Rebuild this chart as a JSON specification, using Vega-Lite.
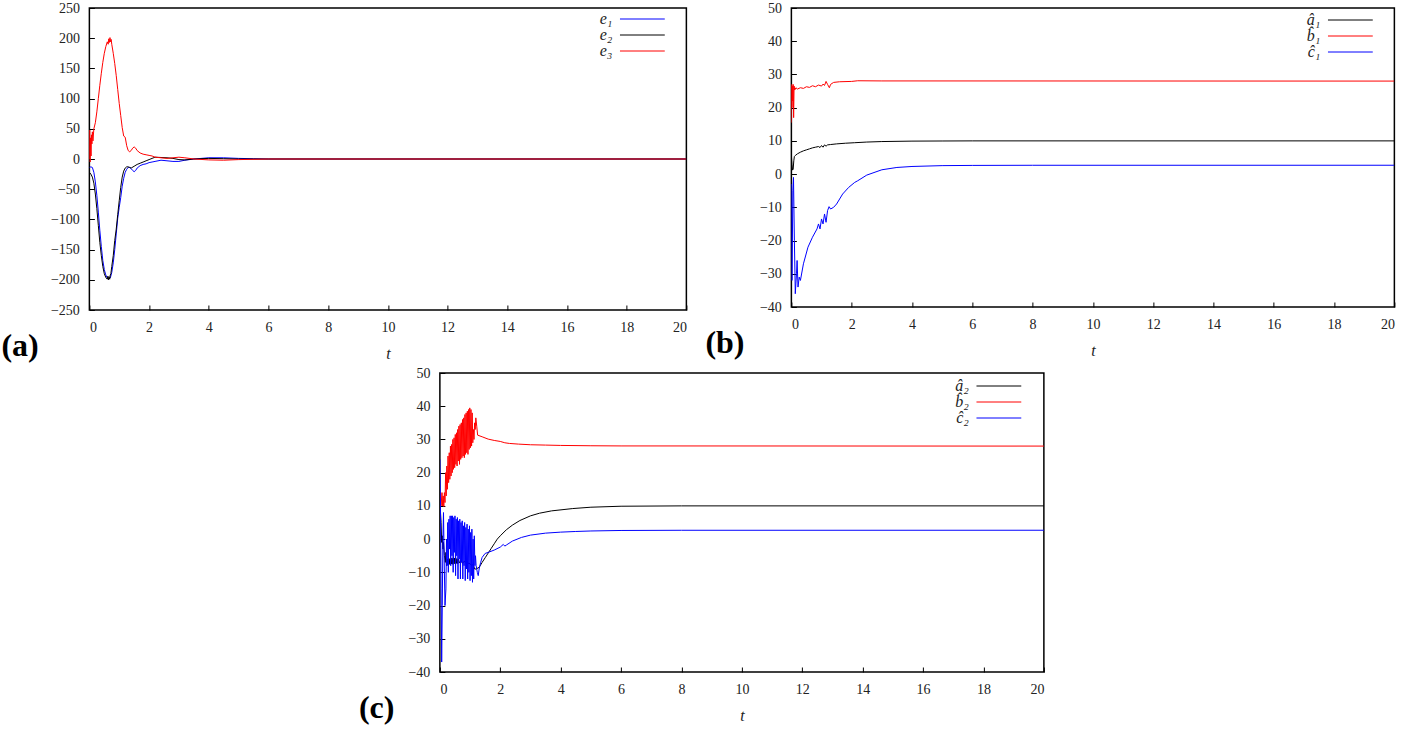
{
  "$schema": "https://vega.github.io/schema/vega-lite/v6.json",
  "padding": {"left": 0, "top": 0, "right": 0, "bottom": 0},
  "background": "white",
  "config": {
    "view": {"stroke": "black", "strokeWidth": 1.5},
    "axis": {
      "domain": false,
      "grid": false,
      "ticks": true,
      "tickColor": "black",
      "tickSize": -5,
      "tickWidth": 1,
      "labelFont": "Liberation Serif",
      "labelFontSize": 14,
      "labelColor": "#222",
      "labelPadding": 15,
      "titleFont": "Liberation Serif",
      "titleFontSize": 16,
      "titleFontStyle": "italic",
      "titleFontWeight": "normal",
      "titleColor": "#222",
      "titlePadding": 11
    },
    "legend": {
      "orient": "none",
      "padding": 0,
      "symbolType": "M-3.2,0H3.2",
      "symbolSize": 196,
      "symbolStrokeWidth": 1.5,
      "labelFont": "Liberation Serif",
      "labelFontSize": 16,
      "labelFontStyle": "italic",
      "labelColor": "#222",
      "labelAlign": "right",
      "labelOffset": -38,
      "rowPadding": 0
    },
    "title": {
      "font": "Liberation Serif",
      "fontSize": 32,
      "fontWeight": "bold",
      "color": "black",
      "orient": "bottom",
      "anchor": "start",
      "frame": "group",
      "offset": -30
    },
    "line": {"strokeWidth": 1}
  },
  "datasets": {
    "pa": [
      {"s": "e₁", "t": 0, "v": -14}, {"s": "e₁", "t": 0.05, "v": -13}, {"s": "e₁", "t": 0.1, "v": -14}, {"s": "e₁", "t": 0.15, "v": -22}, {"s": "e₁", "t": 0.2, "v": -38}, {"s": "e₁", "t": 0.25, "v": -60}, {"s": "e₁", "t": 0.3, "v": -88}, {"s": "e₁", "t": 0.35, "v": -118}, {"s": "e₁", "t": 0.4, "v": -145}, {"s": "e₁", "t": 0.45, "v": -168}, {"s": "e₁", "t": 0.5, "v": -183}, {"s": "e₁", "t": 0.55, "v": -192}, {"s": "e₁", "t": 0.6, "v": -197}, {"s": "e₁", "t": 0.65, "v": -199}, {"s": "e₁", "t": 0.7, "v": -197}, {"s": "e₁", "t": 0.75, "v": -188}, {"s": "e₁", "t": 0.8, "v": -172}, {"s": "e₁", "t": 0.85, "v": -150}, {"s": "e₁", "t": 0.9, "v": -124}, {"s": "e₁", "t": 0.95, "v": -98}, {"s": "e₁", "t": 1.0, "v": -80}, {"s": "e₁", "t": 1.05, "v": -64}, {"s": "e₁", "t": 1.1, "v": -45}, {"s": "e₁", "t": 1.15, "v": -32}, {"s": "e₁", "t": 1.2, "v": -22}, {"s": "e₁", "t": 1.25, "v": -17}, {"s": "e₁", "t": 1.3, "v": -14}, {"s": "e₁", "t": 1.35, "v": -14}, {"s": "e₁", "t": 1.4, "v": -16}, {"s": "e₁", "t": 1.45, "v": -19}, {"s": "e₁", "t": 1.5, "v": -21}, {"s": "e₁", "t": 1.55, "v": -19}, {"s": "e₁", "t": 1.6, "v": -15}, {"s": "e₁", "t": 1.7, "v": -11}, {"s": "e₁", "t": 1.8, "v": -9}, {"s": "e₁", "t": 1.9, "v": -8}, {"s": "e₁", "t": 2.0, "v": -6}, {"s": "e₁", "t": 2.1, "v": -5}, {"s": "e₁", "t": 2.2, "v": -4}, {"s": "e₁", "t": 2.4, "v": -2}, {"s": "e₁", "t": 2.6, "v": -3}, {"s": "e₁", "t": 2.8, "v": -4}, {"s": "e₁", "t": 3.0, "v": -4}, {"s": "e₁", "t": 3.2, "v": -2}, {"s": "e₁", "t": 3.5, "v": 0}, {"s": "e₁", "t": 4.0, "v": 2}, {"s": "e₁", "t": 4.5, "v": 2}, {"s": "e₁", "t": 5.0, "v": 1}, {"s": "e₁", "t": 5.5, "v": 0.5}, {"s": "e₁", "t": 6, "v": 0}, {"s": "e₁", "t": 20, "v": 0},
      {"s": "e₂", "t": 0, "v": -22}, {"s": "e₂", "t": 0.05, "v": -25}, {"s": "e₂", "t": 0.1, "v": -30}, {"s": "e₂", "t": 0.15, "v": -40}, {"s": "e₂", "t": 0.2, "v": -58}, {"s": "e₂", "t": 0.25, "v": -82}, {"s": "e₂", "t": 0.3, "v": -110}, {"s": "e₂", "t": 0.35, "v": -138}, {"s": "e₂", "t": 0.4, "v": -160}, {"s": "e₂", "t": 0.45, "v": -178}, {"s": "e₂", "t": 0.5, "v": -190}, {"s": "e₂", "t": 0.55, "v": -196}, {"s": "e₂", "t": 0.6, "v": -199}, {"s": "e₂", "t": 0.62, "v": -194}, {"s": "e₂", "t": 0.64, "v": -200}, {"s": "e₂", "t": 0.66, "v": -195}, {"s": "e₂", "t": 0.68, "v": -199}, {"s": "e₂", "t": 0.7, "v": -192}, {"s": "e₂", "t": 0.72, "v": -190}, {"s": "e₂", "t": 0.75, "v": -178}, {"s": "e₂", "t": 0.8, "v": -160}, {"s": "e₂", "t": 0.85, "v": -135}, {"s": "e₂", "t": 0.9, "v": -116}, {"s": "e₂", "t": 0.95, "v": -92}, {"s": "e₂", "t": 1.0, "v": -69}, {"s": "e₂", "t": 1.05, "v": -47}, {"s": "e₂", "t": 1.1, "v": -30}, {"s": "e₂", "t": 1.15, "v": -20}, {"s": "e₂", "t": 1.2, "v": -15}, {"s": "e₂", "t": 1.25, "v": -13}, {"s": "e₂", "t": 1.3, "v": -13}, {"s": "e₂", "t": 1.35, "v": -14}, {"s": "e₂", "t": 1.4, "v": -15}, {"s": "e₂", "t": 1.5, "v": -12}, {"s": "e₂", "t": 1.6, "v": -9}, {"s": "e₂", "t": 1.7, "v": -7}, {"s": "e₂", "t": 1.8, "v": -5}, {"s": "e₂", "t": 1.9, "v": -3}, {"s": "e₂", "t": 2.0, "v": -1}, {"s": "e₂", "t": 2.1, "v": 1}, {"s": "e₂", "t": 2.2, "v": 3}, {"s": "e₂", "t": 2.4, "v": 2.5}, {"s": "e₂", "t": 2.6, "v": 2}, {"s": "e₂", "t": 2.8, "v": 1}, {"s": "e₂", "t": 3.0, "v": -1}, {"s": "e₂", "t": 3.2, "v": -1.5}, {"s": "e₂", "t": 3.5, "v": 0}, {"s": "e₂", "t": 4, "v": 1}, {"s": "e₂", "t": 4.5, "v": 0.5}, {"s": "e₂", "t": 5, "v": 0}, {"s": "e₂", "t": 20, "v": 0},
      {"s": "e₃", "t": 0, "v": 0}, {"s": "e₃", "t": 0.01, "v": 48}, {"s": "e₃", "t": 0.025, "v": -5}, {"s": "e₃", "t": 0.04, "v": 35}, {"s": "e₃", "t": 0.055, "v": 5}, {"s": "e₃", "t": 0.07, "v": 40}, {"s": "e₃", "t": 0.085, "v": 25}, {"s": "e₃", "t": 0.1, "v": 45}, {"s": "e₃", "t": 0.12, "v": 30}, {"s": "e₃", "t": 0.15, "v": 50}, {"s": "e₃", "t": 0.2, "v": 60}, {"s": "e₃", "t": 0.25, "v": 78}, {"s": "e₃", "t": 0.3, "v": 100}, {"s": "e₃", "t": 0.35, "v": 122}, {"s": "e₃", "t": 0.4, "v": 142}, {"s": "e₃", "t": 0.45, "v": 160}, {"s": "e₃", "t": 0.5, "v": 175}, {"s": "e₃", "t": 0.55, "v": 186}, {"s": "e₃", "t": 0.6, "v": 194}, {"s": "e₃", "t": 0.63, "v": 190}, {"s": "e₃", "t": 0.65, "v": 199}, {"s": "e₃", "t": 0.67, "v": 193}, {"s": "e₃", "t": 0.69, "v": 201}, {"s": "e₃", "t": 0.71, "v": 194}, {"s": "e₃", "t": 0.73, "v": 198}, {"s": "e₃", "t": 0.75, "v": 190}, {"s": "e₃", "t": 0.8, "v": 175}, {"s": "e₃", "t": 0.85, "v": 158}, {"s": "e₃", "t": 0.9, "v": 138}, {"s": "e₃", "t": 0.95, "v": 115}, {"s": "e₃", "t": 1.0, "v": 92}, {"s": "e₃", "t": 1.05, "v": 72}, {"s": "e₃", "t": 1.1, "v": 52}, {"s": "e₃", "t": 1.15, "v": 38}, {"s": "e₃", "t": 1.2, "v": 36}, {"s": "e₃", "t": 1.25, "v": 22}, {"s": "e₃", "t": 1.3, "v": 14}, {"s": "e₃", "t": 1.35, "v": 12}, {"s": "e₃", "t": 1.4, "v": 14}, {"s": "e₃", "t": 1.45, "v": 18}, {"s": "e₃", "t": 1.5, "v": 20}, {"s": "e₃", "t": 1.55, "v": 18}, {"s": "e₃", "t": 1.6, "v": 14}, {"s": "e₃", "t": 1.7, "v": 10}, {"s": "e₃", "t": 1.8, "v": 8}, {"s": "e₃", "t": 1.9, "v": 7}, {"s": "e₃", "t": 2.0, "v": 6}, {"s": "e₃", "t": 2.1, "v": 5}, {"s": "e₃", "t": 2.2, "v": 3}, {"s": "e₃", "t": 2.4, "v": 2}, {"s": "e₃", "t": 2.6, "v": 1}, {"s": "e₃", "t": 2.8, "v": 2}, {"s": "e₃", "t": 3.0, "v": 3}, {"s": "e₃", "t": 3.2, "v": 2}, {"s": "e₃", "t": 3.5, "v": 0}, {"s": "e₃", "t": 4, "v": -1.5}, {"s": "e₃", "t": 4.5, "v": -2}, {"s": "e₃", "t": 5, "v": -1}, {"s": "e₃", "t": 6, "v": 0}, {"s": "e₃", "t": 20, "v": 0}
    ],
    "pb": [
      {"s": "â₁", "t": 0, "v": 5.7}, {"s": "â₁", "t": 0.02, "v": 3}, {"s": "â₁", "t": 0.04, "v": 1.2}, {"s": "â₁", "t": 0.06, "v": 1.5}, {"s": "â₁", "t": 0.08, "v": 4}, {"s": "â₁", "t": 0.1, "v": 5.3}, {"s": "â₁", "t": 0.13, "v": 5.6}, {"s": "â₁", "t": 0.2, "v": 6.1}, {"s": "â₁", "t": 0.3, "v": 6.6}, {"s": "â₁", "t": 0.4, "v": 7.0}, {"s": "â₁", "t": 0.5, "v": 7.3}, {"s": "â₁", "t": 0.6, "v": 7.6}, {"s": "â₁", "t": 0.7, "v": 7.9}, {"s": "â₁", "t": 0.8, "v": 8.1}, {"s": "â₁", "t": 0.9, "v": 8.3}, {"s": "â₁", "t": 0.95, "v": 8.0}, {"s": "â₁", "t": 1.0, "v": 8.6}, {"s": "â₁", "t": 1.05, "v": 8.1}, {"s": "â₁", "t": 1.1, "v": 8.8}, {"s": "â₁", "t": 1.15, "v": 8.4}, {"s": "â₁", "t": 1.2, "v": 8.8}, {"s": "â₁", "t": 1.3, "v": 8.9}, {"s": "â₁", "t": 1.5, "v": 9.1}, {"s": "â₁", "t": 1.8, "v": 9.3}, {"s": "â₁", "t": 2.1, "v": 9.45}, {"s": "â₁", "t": 2.5, "v": 9.65}, {"s": "â₁", "t": 3, "v": 9.8}, {"s": "â₁", "t": 4, "v": 9.93}, {"s": "â₁", "t": 5, "v": 9.97}, {"s": "â₁", "t": 6, "v": 10}, {"s": "â₁", "t": 20, "v": 10},
      {"s": "b̂₁", "t": 0, "v": 15.5}, {"s": "b̂₁", "t": 0.01, "v": 27}, {"s": "b̂₁", "t": 0.02, "v": 20}, {"s": "b̂₁", "t": 0.03, "v": 26.5}, {"s": "b̂₁", "t": 0.045, "v": 22}, {"s": "b̂₁", "t": 0.06, "v": 27}, {"s": "b̂₁", "t": 0.075, "v": 17}, {"s": "b̂₁", "t": 0.09, "v": 26.5}, {"s": "b̂₁", "t": 0.11, "v": 25.3}, {"s": "b̂₁", "t": 0.15, "v": 26}, {"s": "b̂₁", "t": 0.2, "v": 25.6}, {"s": "b̂₁", "t": 0.3, "v": 26}, {"s": "b̂₁", "t": 0.4, "v": 25.8}, {"s": "b̂₁", "t": 0.5, "v": 26.3}, {"s": "b̂₁", "t": 0.6, "v": 26.1}, {"s": "b̂₁", "t": 0.7, "v": 26.6}, {"s": "b̂₁", "t": 0.8, "v": 26.3}, {"s": "b̂₁", "t": 0.9, "v": 26.8}, {"s": "b̂₁", "t": 1.0, "v": 26.5}, {"s": "b̂₁", "t": 1.05, "v": 27.1}, {"s": "b̂₁", "t": 1.1, "v": 26.7}, {"s": "b̂₁", "t": 1.15, "v": 27.9}, {"s": "b̂₁", "t": 1.2, "v": 27}, {"s": "b̂₁", "t": 1.26, "v": 26}, {"s": "b̂₁", "t": 1.3, "v": 27}, {"s": "b̂₁", "t": 1.4, "v": 27.6}, {"s": "b̂₁", "t": 1.6, "v": 27.8}, {"s": "b̂₁", "t": 2.0, "v": 27.9}, {"s": "b̂₁", "t": 2.2, "v": 28.1}, {"s": "b̂₁", "t": 3, "v": 28.05}, {"s": "b̂₁", "t": 20, "v": 28},
      {"s": "ĉ₁", "t": 0, "v": -3}, {"s": "ĉ₁", "t": 0.02, "v": -32}, {"s": "ĉ₁", "t": 0.05, "v": -5}, {"s": "ĉ₁", "t": 0.07, "v": -1}, {"s": "ĉ₁", "t": 0.1, "v": -20}, {"s": "ĉ₁", "t": 0.13, "v": -36}, {"s": "ĉ₁", "t": 0.17, "v": -30}, {"s": "ĉ₁", "t": 0.19, "v": -26}, {"s": "ĉ₁", "t": 0.22, "v": -34}, {"s": "ĉ₁", "t": 0.26, "v": -31}, {"s": "ĉ₁", "t": 0.3, "v": -32}, {"s": "ĉ₁", "t": 0.4, "v": -27}, {"s": "ĉ₁", "t": 0.55, "v": -22}, {"s": "ĉ₁", "t": 0.7, "v": -19}, {"s": "ĉ₁", "t": 0.85, "v": -16.5}, {"s": "ĉ₁", "t": 0.9, "v": -15}, {"s": "ĉ₁", "t": 0.95, "v": -16.5}, {"s": "ĉ₁", "t": 1.0, "v": -13.5}, {"s": "ĉ₁", "t": 1.05, "v": -15}, {"s": "ĉ₁", "t": 1.1, "v": -12}, {"s": "ĉ₁", "t": 1.15, "v": -14.5}, {"s": "ĉ₁", "t": 1.2, "v": -11}, {"s": "ĉ₁", "t": 1.25, "v": -9.8}, {"s": "ĉ₁", "t": 1.3, "v": -10.5}, {"s": "ĉ₁", "t": 1.4, "v": -10}, {"s": "ĉ₁", "t": 1.5, "v": -9}, {"s": "ĉ₁", "t": 1.7, "v": -6}, {"s": "ĉ₁", "t": 1.9, "v": -4}, {"s": "ĉ₁", "t": 2.1, "v": -2.5}, {"s": "ĉ₁", "t": 2.2, "v": -2}, {"s": "ĉ₁", "t": 2.5, "v": -0.3}, {"s": "ĉ₁", "t": 3, "v": 1.3}, {"s": "ĉ₁", "t": 3.5, "v": 2}, {"s": "ĉ₁", "t": 4, "v": 2.3}, {"s": "ĉ₁", "t": 5, "v": 2.55}, {"s": "ĉ₁", "t": 6, "v": 2.62}, {"s": "ĉ₁", "t": 8, "v": 2.66}, {"s": "ĉ₁", "t": 20, "v": 2.67}
    ],
    "pc": [
      {"s": "â₂", "t": 0, "v": 10}, {"s": "â₂", "t": 0.02, "v": 8}, {"s": "â₂", "t": 0.04, "v": 5}, {"s": "â₂", "t": 0.06, "v": -1}, {"s": "â₂", "t": 0.08, "v": 1}, {"s": "â₂", "t": 0.1, "v": -3}, {"s": "â₂", "t": 0.12, "v": -1}, {"s": "â₂", "t": 0.15, "v": -5}, {"s": "â₂", "t": 0.18, "v": -7}, {"s": "â₂", "t": 0.2, "v": -4}, {"s": "â₂", "t": 0.22, "v": -8}, {"s": "â₂", "t": 0.25, "v": -6}, {"s": "â₂", "t": 0.27, "v": -7.8}, {"s": "â₂", "t": 0.29, "v": -5.8}, {"s": "â₂", "t": 0.31, "v": -7.6}, {"s": "â₂", "t": 0.33, "v": -5.9}, {"s": "â₂", "t": 0.35, "v": -7.7}, {"s": "â₂", "t": 0.37, "v": -5.7}, {"s": "â₂", "t": 0.39, "v": -7.5}, {"s": "â₂", "t": 0.41, "v": -5.8}, {"s": "â₂", "t": 0.43, "v": -7.6}, {"s": "â₂", "t": 0.45, "v": -5.6}, {"s": "â₂", "t": 0.47, "v": -7.4}, {"s": "â₂", "t": 0.49, "v": -5.7}, {"s": "â₂", "t": 0.51, "v": -7.5}, {"s": "â₂", "t": 0.53, "v": -5.8}, {"s": "â₂", "t": 0.55, "v": -7.3}, {"s": "â₂", "t": 0.57, "v": -5.9}, {"s": "â₂", "t": 0.59, "v": -7.4}, {"s": "â₂", "t": 0.61, "v": -6}, {"s": "â₂", "t": 0.65, "v": -7.2}, {"s": "â₂", "t": 0.7, "v": -6.4}, {"s": "â₂", "t": 0.75, "v": -7.3}, {"s": "â₂", "t": 0.8, "v": -6.7}, {"s": "â₂", "t": 0.9, "v": -7.2}, {"s": "â₂", "t": 1.0, "v": -7.4}, {"s": "â₂", "t": 1.05, "v": -8}, {"s": "â₂", "t": 1.1, "v": -7.6}, {"s": "â₂", "t": 1.15, "v": -9}, {"s": "â₂", "t": 1.2, "v": -9}, {"s": "â₂", "t": 1.3, "v": -8.5}, {"s": "â₂", "t": 1.4, "v": -7}, {"s": "â₂", "t": 1.5, "v": -5.6}, {"s": "â₂", "t": 1.6, "v": -4.2}, {"s": "â₂", "t": 1.7, "v": -2.8}, {"s": "â₂", "t": 1.8, "v": -1.4}, {"s": "â₂", "t": 1.9, "v": 0}, {"s": "â₂", "t": 2.0, "v": 1}, {"s": "â₂", "t": 2.2, "v": 2.8}, {"s": "â₂", "t": 2.4, "v": 4.2}, {"s": "â₂", "t": 2.65, "v": 5.6}, {"s": "â₂", "t": 3.0, "v": 7}, {"s": "â₂", "t": 3.3, "v": 7.8}, {"s": "â₂", "t": 3.7, "v": 8.5}, {"s": "â₂", "t": 4.4, "v": 9.2}, {"s": "â₂", "t": 5, "v": 9.6}, {"s": "â₂", "t": 6, "v": 9.9}, {"s": "â₂", "t": 8, "v": 10}, {"s": "â₂", "t": 20, "v": 10},
      {"s": "b̂₂", "t": 0, "v": 12}, {"s": "b̂₂", "t": 0.02, "v": 14}, {"s": "b̂₂", "t": 0.04, "v": 10}, {"s": "b̂₂", "t": 0.07, "v": 14}, {"s": "b̂₂", "t": 0.09, "v": 10}, {"s": "b̂₂", "t": 0.11, "v": 13}, {"s": "b̂₂", "t": 0.13, "v": 9.8}, {"s": "b̂₂", "t": 0.15, "v": 14}, {"s": "b̂₂", "t": 0.17, "v": 11}, {"s": "b̂₂", "t": 0.19, "v": 20}, {"s": "b̂₂", "t": 0.21, "v": 13}, {"s": "b̂₂", "t": 0.23, "v": 22}, {"s": "b̂₂", "t": 0.25, "v": 15}, {"s": "b̂₂", "t": 0.27, "v": 25}, {"s": "b̂₂", "t": 0.29, "v": 17}, {"s": "b̂₂", "t": 0.31, "v": 26}, {"s": "b̂₂", "t": 0.33, "v": 18}, {"s": "b̂₂", "t": 0.35, "v": 28}, {"s": "b̂₂", "t": 0.37, "v": 19}, {"s": "b̂₂", "t": 0.39, "v": 28.5}, {"s": "b̂₂", "t": 0.41, "v": 20}, {"s": "b̂₂", "t": 0.43, "v": 30}, {"s": "b̂₂", "t": 0.45, "v": 21}, {"s": "b̂₂", "t": 0.47, "v": 30.5}, {"s": "b̂₂", "t": 0.49, "v": 21.5}, {"s": "b̂₂", "t": 0.51, "v": 31.5}, {"s": "b̂₂", "t": 0.53, "v": 22.5}, {"s": "b̂₂", "t": 0.55, "v": 32}, {"s": "b̂₂", "t": 0.57, "v": 22}, {"s": "b̂₂", "t": 0.59, "v": 33}, {"s": "b̂₂", "t": 0.61, "v": 23.5}, {"s": "b̂₂", "t": 0.63, "v": 34}, {"s": "b̂₂", "t": 0.65, "v": 22.5}, {"s": "b̂₂", "t": 0.67, "v": 34.5}, {"s": "b̂₂", "t": 0.69, "v": 24}, {"s": "b̂₂", "t": 0.71, "v": 35}, {"s": "b̂₂", "t": 0.73, "v": 24.5}, {"s": "b̂₂", "t": 0.75, "v": 36}, {"s": "b̂₂", "t": 0.77, "v": 25}, {"s": "b̂₂", "t": 0.79, "v": 36.5}, {"s": "b̂₂", "t": 0.81, "v": 24.5}, {"s": "b̂₂", "t": 0.83, "v": 37.5}, {"s": "b̂₂", "t": 0.85, "v": 25.5}, {"s": "b̂₂", "t": 0.87, "v": 38}, {"s": "b̂₂", "t": 0.89, "v": 26}, {"s": "b̂₂", "t": 0.91, "v": 38.5}, {"s": "b̂₂", "t": 0.93, "v": 25.5}, {"s": "b̂₂", "t": 0.95, "v": 39}, {"s": "b̂₂", "t": 0.97, "v": 27}, {"s": "b̂₂", "t": 0.99, "v": 39.5}, {"s": "b̂₂", "t": 1.01, "v": 27.5}, {"s": "b̂₂", "t": 1.03, "v": 39}, {"s": "b̂₂", "t": 1.05, "v": 28}, {"s": "b̂₂", "t": 1.07, "v": 38}, {"s": "b̂₂", "t": 1.09, "v": 29}, {"s": "b̂₂", "t": 1.11, "v": 33}, {"s": "b̂₂", "t": 1.13, "v": 30}, {"s": "b̂₂", "t": 1.15, "v": 35}, {"s": "b̂₂", "t": 1.17, "v": 33}, {"s": "b̂₂", "t": 1.19, "v": 36.5}, {"s": "b̂₂", "t": 1.22, "v": 34}, {"s": "b̂₂", "t": 1.25, "v": 31.3}, {"s": "b̂₂", "t": 1.4, "v": 30.8}, {"s": "b̂₂", "t": 1.6, "v": 30.1}, {"s": "b̂₂", "t": 1.8, "v": 29.7}, {"s": "b̂₂", "t": 2.0, "v": 29.4}, {"s": "b̂₂", "t": 2.15, "v": 29}, {"s": "b̂₂", "t": 2.3, "v": 28.8}, {"s": "b̂₂", "t": 2.6, "v": 28.6}, {"s": "b̂₂", "t": 3, "v": 28.4}, {"s": "b̂₂", "t": 3.5, "v": 28.3}, {"s": "b̂₂", "t": 4, "v": 28.2}, {"s": "b̂₂", "t": 5, "v": 28.1}, {"s": "b̂₂", "t": 6, "v": 28.05}, {"s": "b̂₂", "t": 20, "v": 28},
      {"s": "ĉ₂", "t": 0, "v": 24}, {"s": "ĉ₂", "t": 0.02, "v": 10}, {"s": "ĉ₂", "t": 0.04, "v": -15}, {"s": "ĉ₂", "t": 0.06, "v": -37}, {"s": "ĉ₂", "t": 0.08, "v": -20}, {"s": "ĉ₂", "t": 0.1, "v": 0}, {"s": "ĉ₂", "t": 0.12, "v": 8}, {"s": "ĉ₂", "t": 0.14, "v": -5}, {"s": "ĉ₂", "t": 0.17, "v": -20}, {"s": "ĉ₂", "t": 0.2, "v": -15}, {"s": "ĉ₂", "t": 0.22, "v": 0}, {"s": "ĉ₂", "t": 0.24, "v": -8}, {"s": "ĉ₂", "t": 0.26, "v": 5}, {"s": "ĉ₂", "t": 0.28, "v": -10}, {"s": "ĉ₂", "t": 0.3, "v": 6}, {"s": "ĉ₂", "t": 0.32, "v": -3}, {"s": "ĉ₂", "t": 0.34, "v": 7}, {"s": "ĉ₂", "t": 0.36, "v": -8}, {"s": "ĉ₂", "t": 0.38, "v": 7}, {"s": "ĉ₂", "t": 0.4, "v": -5}, {"s": "ĉ₂", "t": 0.42, "v": 7}, {"s": "ĉ₂", "t": 0.44, "v": -10}, {"s": "ĉ₂", "t": 0.46, "v": 6.5}, {"s": "ĉ₂", "t": 0.48, "v": -4}, {"s": "ĉ₂", "t": 0.5, "v": 7}, {"s": "ĉ₂", "t": 0.52, "v": -11}, {"s": "ĉ₂", "t": 0.54, "v": 6}, {"s": "ĉ₂", "t": 0.56, "v": -5}, {"s": "ĉ₂", "t": 0.58, "v": 6.5}, {"s": "ĉ₂", "t": 0.6, "v": -12}, {"s": "ĉ₂", "t": 0.62, "v": 5.5}, {"s": "ĉ₂", "t": 0.64, "v": -6}, {"s": "ĉ₂", "t": 0.66, "v": 6}, {"s": "ĉ₂", "t": 0.68, "v": -12}, {"s": "ĉ₂", "t": 0.7, "v": 5}, {"s": "ĉ₂", "t": 0.72, "v": -7}, {"s": "ĉ₂", "t": 0.74, "v": 5.5}, {"s": "ĉ₂", "t": 0.76, "v": -12}, {"s": "ĉ₂", "t": 0.78, "v": 4}, {"s": "ĉ₂", "t": 0.8, "v": -8}, {"s": "ĉ₂", "t": 0.82, "v": 5}, {"s": "ĉ₂", "t": 0.84, "v": -12.5}, {"s": "ĉ₂", "t": 0.86, "v": 3.5}, {"s": "ĉ₂", "t": 0.88, "v": -9}, {"s": "ĉ₂", "t": 0.9, "v": 4.5}, {"s": "ĉ₂", "t": 0.92, "v": -12}, {"s": "ĉ₂", "t": 0.94, "v": 3}, {"s": "ĉ₂", "t": 0.96, "v": -10}, {"s": "ĉ₂", "t": 0.98, "v": 4}, {"s": "ĉ₂", "t": 1.0, "v": -12.5}, {"s": "ĉ₂", "t": 1.02, "v": 2}, {"s": "ĉ₂", "t": 1.04, "v": -11}, {"s": "ĉ₂", "t": 1.06, "v": 3}, {"s": "ĉ₂", "t": 1.08, "v": -13}, {"s": "ĉ₂", "t": 1.1, "v": 0}, {"s": "ĉ₂", "t": 1.12, "v": -12}, {"s": "ĉ₂", "t": 1.14, "v": 1}, {"s": "ĉ₂", "t": 1.16, "v": -8}, {"s": "ĉ₂", "t": 1.18, "v": -5}, {"s": "ĉ₂", "t": 1.2, "v": -8}, {"s": "ĉ₂", "t": 1.24, "v": -10}, {"s": "ĉ₂", "t": 1.27, "v": -11}, {"s": "ĉ₂", "t": 1.3, "v": -9}, {"s": "ĉ₂", "t": 1.35, "v": -7}, {"s": "ĉ₂", "t": 1.4, "v": -5.5}, {"s": "ĉ₂", "t": 1.5, "v": -4.3}, {"s": "ĉ₂", "t": 1.6, "v": -4}, {"s": "ĉ₂", "t": 1.8, "v": -3.3}, {"s": "ĉ₂", "t": 2.0, "v": -2.4}, {"s": "ĉ₂", "t": 2.1, "v": -1.6}, {"s": "ĉ₂", "t": 2.15, "v": -2.1}, {"s": "ĉ₂", "t": 2.2, "v": -1.8}, {"s": "ĉ₂", "t": 2.4, "v": -0.6}, {"s": "ĉ₂", "t": 2.7, "v": 0.5}, {"s": "ĉ₂", "t": 3, "v": 1.2}, {"s": "ĉ₂", "t": 3.5, "v": 1.8}, {"s": "ĉ₂", "t": 4, "v": 2.1}, {"s": "ĉ₂", "t": 4.5, "v": 2.3}, {"s": "ĉ₂", "t": 5, "v": 2.45}, {"s": "ĉ₂", "t": 6, "v": 2.6}, {"s": "ĉ₂", "t": 8, "v": 2.66}, {"s": "ĉ₂", "t": 20, "v": 2.67}
    ]
  },
  "vconcat": [
    {
      "hconcat": [
        {
          "width": 597,
          "height": 302,
          "title": {"text": "(a)", "dx": -88},
          "data": {"name": "pa"},
          "mark": {"type": "line", "clip": true},
          "encoding": {
            "x": {"field": "t", "type": "quantitative", "scale": {"domain": [0, 20], "nice": false}, "axis": {"title": "t", "values": [0, 2, 4, 6, 8, 10, 12, 14, 16, 18, 20]}},
            "y": {"field": "v", "type": "quantitative", "scale": {"domain": [-250, 250], "nice": false}, "axis": {"title": null, "values": [-250, -200, -150, -100, -50, 0, 50, 100, 150, 200, 250]}},
            "color": {"field": "s", "type": "nominal", "scale": {"domain": ["e₁", "e₂", "e₃"], "range": ["#0000ff", "#000000", "#ff0000"]}, "legend": {"title": null, "legendX": 545, "legendY": 3}}
          }
        },
        {
          "width": 603,
          "height": 299,
          "title": {"text": "(b)", "dx": -86},
          "data": {"name": "pb"},
          "mark": {"type": "line", "clip": true},
          "encoding": {
            "x": {"field": "t", "type": "quantitative", "scale": {"domain": [0, 20], "nice": false}, "axis": {"title": "t", "values": [0, 2, 4, 6, 8, 10, 12, 14, 16, 18, 20]}},
            "y": {"field": "v", "type": "quantitative", "scale": {"domain": [-40, 50], "nice": false}, "axis": {"title": null, "values": [-40, -30, -20, -10, 0, 10, 20, 30, 40, 50]}},
            "color": {"field": "s", "type": "nominal", "scale": {"domain": ["â₁", "b̂₁", "ĉ₁"], "range": ["#000000", "#ff0000", "#0000ff"]}, "legend": {"title": null, "legendX": 551, "legendY": 4}}
          }
        }
      ],
      "spacing": 16,
      "resolve": {"scale": {"color": "independent", "x": "independent", "y": "independent"}, "legend": {"color": "independent"}}
    },
    {
      "width": 604,
      "height": 299,
      "title": {"text": "(c)", "dx": -81},
      "data": {"name": "pc"},
      "mark": {"type": "line", "clip": true},
      "encoding": {
        "x": {"field": "t", "type": "quantitative", "scale": {"domain": [0, 20], "nice": false}, "axis": {"title": "t", "values": [0, 2, 4, 6, 8, 10, 12, 14, 16, 18, 20]}},
        "y": {"field": "v", "type": "quantitative", "scale": {"domain": [-40, 50], "nice": false}, "axis": {"title": null, "values": [-40, -30, -20, -10, 0, 10, 20, 30, 40, 50]}},
        "color": {"field": "s", "type": "nominal", "scale": {"domain": ["â₂", "b̂₂", "ĉ₂"], "range": ["#000000", "#ff0000", "#0000ff"]}, "legend": {"title": null, "legendX": 551, "legendY": 5}}
      }
    }
  ],
  "spacing": 2,
  "center": true,
  "resolve": {"scale": {"color": "independent", "x": "independent", "y": "independent"}, "legend": {"color": "independent"}}
}
